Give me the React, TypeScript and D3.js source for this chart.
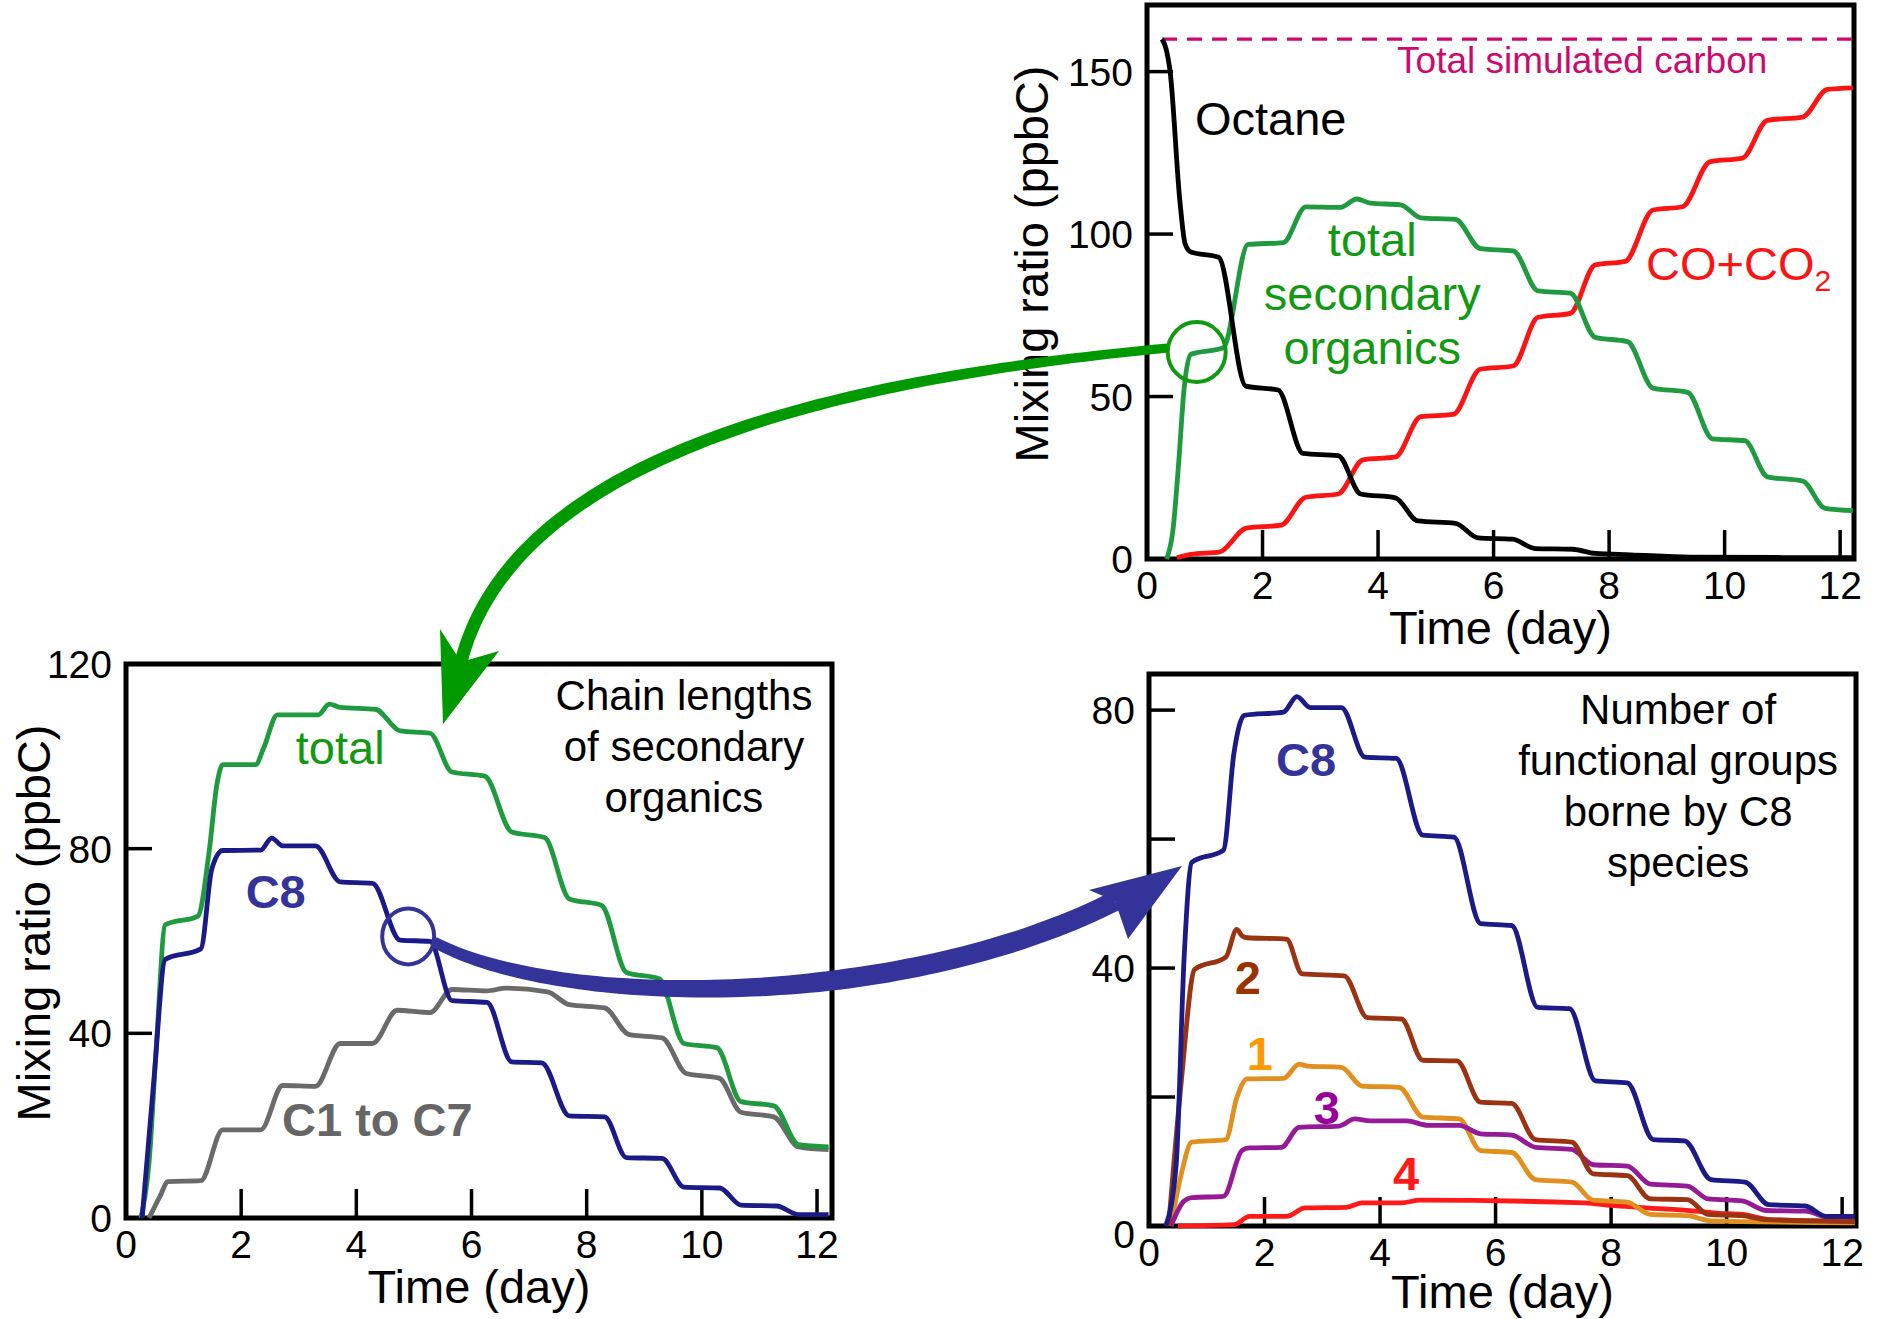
import * as d3 from "d3";

const W = 1881;
const H = 1319;
const FONT = "'Liberation Sans', Arial, Helvetica, sans-serif";

type Pt = [number, number];

// ---- top right: carbon budget (ppbC vs day)
const octane: Pt[] = [[0.26, 160], [0.33, 157], [0.4, 150], [0.57, 110], [0.66, 97], [0.76, 94.5], [1.24, 92.9], [1.71, 53.2], [2.27, 52], [2.7, 32.5], [3.31, 31.8], [3.7, 20], [4.3, 18.8], [4.69, 11.7], [5.34, 11], [5.73, 6.5], [6.33, 6.1], [6.72, 3.2], [7.37, 3], [7.76, 1.7], [8.37, 1.3], [9.4, 0.6], [12.22, 0.4]];
const totalSecondary: Pt[] = [[0.34, 0], [0.45, 9], [0.55, 30], [0.64, 52], [0.76, 63], [1.32, 65], [1.75, 96.8], [2.36, 97.4], [2.75, 108.4], [3.35, 108.2], [3.63, 110.8], [3.87, 109.5], [4.39, 109], [4.74, 105], [5.34, 104.5], [5.77, 95.5], [6.34, 94.8], [6.77, 82.5], [7.33, 81.8], [7.76, 68.2], [8.32, 66.9], [8.76, 52.6], [9.36, 51.3], [9.79, 37], [10.35, 36.4], [10.74, 25.3], [11.35, 24], [11.74, 15.6], [12.22, 14.9]];
const coCo2: Pt[] = [[0.52, 0.4], [0.76, 1.4], [1.26, 2.2], [1.72, 9.5], [2.32, 10.4], [2.75, 19], [3.31, 20], [3.74, 30.5], [4.3, 31.4], [4.74, 43.8], [5.3, 44.5], [5.77, 58.4], [6.34, 59.4], [6.77, 74.4], [7.33, 75.6], [7.76, 90.5], [8.28, 91.6], [8.76, 107.4], [9.27, 108.4], [9.75, 122.3], [10.31, 123.4], [10.74, 135], [11.35, 136], [11.78, 144.5], [12.22, 145]];
const totalCarbon: Pt[] = [[0.26, 160], [12.24, 160]];

// ---- bottom left: chain lengths
const totalBL: Pt[] = [[0.26, 0], [0.4, 12], [0.54, 40], [0.68, 63.5], [1.25, 65.4], [1.44, 79], [1.58, 94], [1.68, 98.2], [2.25, 98.2], [2.39, 101.8], [2.63, 109], [3.34, 109], [3.53, 111.3], [3.72, 110.6], [4.33, 110.2], [4.76, 105.5], [5.28, 105], [5.66, 96.6], [6.23, 95.7], [6.7, 83.6], [7.27, 82.4], [7.7, 69.1], [8.26, 67.7], [8.69, 53.2], [9.26, 51.8], [9.69, 37.8], [10.26, 36.9], [10.68, 25.2], [11.25, 24.3], [11.68, 15.9], [12.2, 15.4]];
const c8BL: Pt[] = [[0.28, 0], [0.49, 30.8], [0.68, 56], [1.3, 58.3], [1.49, 75.6], [1.68, 79.6], [2.34, 79.7], [2.53, 82.3], [2.72, 80.6], [3.29, 80.6], [3.72, 72.8], [4.28, 72.5], [4.76, 60.2], [5.28, 59.9], [5.66, 47.1], [6.27, 46.7], [6.7, 33.8], [7.22, 33.6], [7.7, 22.1], [8.31, 21.9], [8.69, 13.1], [9.31, 12.9], [9.69, 6.7], [10.31, 6.5], [10.68, 2.8], [11.3, 2.6], [11.68, 0.75], [12.2, 0.75]];
const c1c7: Pt[] = [[0.4, 0], [0.59, 4.7], [0.73, 7.9], [1.3, 8.1], [1.68, 19.1], [2.34, 19.1], [2.72, 28.7], [3.29, 28.5], [3.72, 37.8], [4.28, 37.8], [4.71, 45], [5.28, 44.5], [5.66, 49.5], [6.27, 49.2], [6.6, 49.8], [7.32, 49], [7.7, 46.2], [8.31, 45.5], [8.74, 39.7], [9.31, 39], [9.73, 31.3], [10.3, 30.3], [10.68, 22.9], [11.25, 21.9], [11.68, 15.4], [12.2, 14.8]];

// ---- bottom right: functional groups borne by C8
const c8BR: Pt[] = [[0.29, 0], [0.47, 9.5], [0.61, 42], [0.74, 56.4], [1.29, 58.3], [1.47, 73.3], [1.65, 79.2], [2.33, 79.7], [2.56, 82.1], [2.79, 80.4], [3.33, 80.4], [3.74, 72.7], [4.28, 72.5], [4.74, 60.6], [5.28, 60.3], [5.74, 46.9], [6.28, 46.6], [6.73, 33.9], [7.28, 33.7], [7.73, 22.5], [8.28, 22.2], [8.73, 13.4], [9.27, 13.2], [9.73, 7.2], [10.32, 6.8], [10.73, 3.3], [11.36, 3.1], [11.72, 1.5], [12.22, 1.5]];
const fg2: Pt[] = [[0.34, 0], [0.56, 22.5], [0.79, 39.8], [1.33, 41.7], [1.52, 46], [1.61, 45], [1.7, 44.7], [2.38, 44.5], [2.65, 39.1], [3.38, 38.8], [3.78, 32.3], [4.37, 32.1], [4.74, 25.7], [5.33, 25.6], [5.74, 19.2], [6.28, 19], [6.69, 13.4], [7.32, 13], [7.69, 8.1], [8.28, 7.8], [8.68, 4.2], [9.32, 4.1], [9.68, 1.8], [10.27, 1.6], [10.68, 1], [12.22, 0.7]];
const fg1: Pt[] = [[0.38, 0], [0.56, 8.1], [0.74, 13], [1.33, 13.4], [1.52, 19.9], [1.7, 22.8], [2.33, 22.9], [2.6, 25.1], [2.74, 24.8], [3.33, 24.6], [3.69, 21.7], [4.33, 21.5], [4.74, 16.9], [5.37, 16.6], [5.74, 11.7], [6.28, 11.4], [6.69, 7.2], [7.32, 6.8], [7.69, 4], [8.28, 3.7], [8.68, 1.8], [9.32, 1.6], [9.73, 0.8], [12.22, 0.5]];
const fg3: Pt[] = [[0.38, 0], [0.61, 3.9], [0.74, 4.4], [1.29, 4.6], [1.61, 11.7], [1.74, 12.1], [2.29, 12.2], [2.6, 15.3], [3.29, 15.5], [3.56, 16.6], [3.83, 16.3], [4.46, 16.3], [4.83, 15.6], [5.37, 15.6], [5.74, 14.3], [6.28, 14.1], [6.69, 12.2], [7.32, 11.9], [7.69, 9.5], [8.28, 9.3], [8.68, 6.5], [9.32, 6.2], [9.68, 4.2], [10.27, 3.9], [10.68, 2.4], [11.36, 2.3], [11.77, 1.3], [12.22, 1.1]];
const fg4: Pt[] = [[0.5, 0], [1.47, 0.2], [1.74, 1.5], [2.38, 1.5], [2.7, 2.8], [3.42, 2.9], [3.69, 3.6], [4.37, 3.6], [4.69, 4], [7.55, 3.6], [8, 3.2], [8.46, 2.9], [9.36, 2.4], [9.82, 2], [10.27, 1.8], [10.73, 1], [12.22, 0.7]];

const xTickVals = [2, 4, 6, 8, 10, 12];
const xLabelVals = [0, 2, 4, 6, 8, 10, 12];

type Series = { data: Pt[]; color: string; width?: number; dash?: string };
type Label = { lines: string[]; t: number; v: number; color: string; size: number; bold?: boolean; anchor?: string; gap?: number; sub?: string };
type Box = { left: number; right: number; top: number; bottom: number };

function Panel(props: {
  box: Box; xMax: number; yMax: number; yTicks: number[]; yLabels: number[];
  series: Series[]; labels: Label[]; yTitleX?: number; zeroDy?: number; titleDy?: number;
  circle?: { t: number; v: number; rx: number; ry: number; color: string };
}) {
  const { box, xMax, yMax } = props;
  const x = d3.scaleLinear().domain([0, xMax]).range([box.left, box.right]);
  const y = d3.scaleLinear().domain([0, yMax]).range([box.bottom, box.top]);
  const line = d3.line<Pt>().x(d => x(d[0])).y(d => y(d[1])).curve(d3.curveMonotoneX);
  const cx = (box.left + box.right) / 2;
  const cy = (box.top + box.bottom) / 2;
  return (
    <g fontFamily={FONT}>
      <rect x={box.left} y={box.top} width={box.right - box.left} height={box.bottom - box.top}
        fill="none" stroke="#000" strokeWidth={5} />
      {xTickVals.map(t => (
        <line key={"xt" + t} x1={x(t)} x2={x(t)} y1={box.bottom} y2={box.bottom - 29} stroke="#000" strokeWidth={3.5} />
      ))}
      {props.yTicks.map(v => (
        <line key={"yt" + v} x1={box.left} x2={box.left + 26} y1={y(v)} y2={y(v)} stroke="#000" strokeWidth={3.5} />
      ))}
      {xLabelVals.map(t => (
        <text key={"xl" + t} x={x(t)} y={box.bottom + 40} fontSize={39} textAnchor="middle">{t}</text>
      ))}
      {props.yLabels.map(v => (
        <text key={"yl" + v} x={box.left - 14} y={y(v) + (v === 0 ? props.zeroDy || 0 : 0)} dy="0.36em"
          fontSize={39} textAnchor="end">{v}</text>
      ))}
      <text x={cx} y={box.bottom + (props.titleDy || 85)} fontSize={47} textAnchor="middle">Time (day)</text>
      {props.yTitleX !== undefined && (
        <text transform={`translate(${props.yTitleX},${cy - 18}) rotate(-90)`} fontSize={47} textAnchor="middle">
          Mixing ratio (ppbC)
        </text>
      )}
      {props.series.map((s, i) => (
        <path key={"s" + i} d={line(s.data) || ""} fill="none" stroke={s.color}
          strokeWidth={s.width || 4.8} strokeDasharray={s.dash} strokeLinejoin="round" />
      ))}
      {props.labels.map((l, i) => (
        <text key={"l" + i} x={x(l.t)} y={y(l.v)} fill={l.color} fontSize={l.size}
          fontWeight={l.bold ? "bold" : "normal"} textAnchor={l.anchor || "middle"}>
          {l.lines.map((s, j) => (
            <tspan key={j} x={x(l.t)} dy={j === 0 ? 0 : l.gap || 52}>{s}</tspan>
          ))}
          {l.sub && <tspan fontSize={l.size * 0.64} dy={11}>{l.sub}</tspan>}
        </text>
      ))}
      {props.circle && (
        <ellipse cx={x(props.circle.t)} cy={y(props.circle.v)} rx={props.circle.rx} ry={props.circle.ry}
          fill="none" stroke={props.circle.color} strokeWidth={4} />
      )}
    </g>
  );
}

// a cubic arrow shaft whose width grows from w0 to w1
function taper(p: Pt[], w0: number, w1: number) {
  const n = 80;
  const left: Pt[] = [];
  const right: Pt[] = [];
  for (let i = 0; i <= n; i++) {
    const t = i / n, u = 1 - t;
    const bx = u * u * u * p[0][0] + 3 * u * u * t * p[1][0] + 3 * u * t * t * p[2][0] + t * t * t * p[3][0];
    const by = u * u * u * p[0][1] + 3 * u * u * t * p[1][1] + 3 * u * t * t * p[2][1] + t * t * t * p[3][1];
    const dx = 3 * u * u * (p[1][0] - p[0][0]) + 6 * u * t * (p[2][0] - p[1][0]) + 3 * t * t * (p[3][0] - p[2][0]);
    const dy = 3 * u * u * (p[1][1] - p[0][1]) + 6 * u * t * (p[2][1] - p[1][1]) + 3 * t * t * (p[3][1] - p[2][1]);
    const len = Math.hypot(dx, dy) || 1;
    const hw = (w0 + (w1 - w0) * Math.min(1, t * 1.6)) / 2;
    left.push([bx - (dy / len) * hw, by + (dx / len) * hw]);
    right.push([bx + (dy / len) * hw, by - (dx / len) * hw]);
  }
  const pts = left.concat(right.reverse());
  return "M" + pts.map(q => q[0].toFixed(1) + "," + q[1].toFixed(1)).join("L") + "Z";
}

const greenShaft: Pt[] = [[1168, 348], [850, 378], [515, 450], [461, 662]];
const blueShaft: Pt[] = [[434, 942], [560, 1010], [900, 1010], [1115, 901]];

export default function App() {
  return (
    <svg width={W} height={H} style={{ position: "absolute", left: 0, top: 0, background: "#fff" }}>
      <rect width={W} height={H} fill="#fff" />
      <Panel
        box={{ left: 1147, right: 1854, top: 5, bottom: 559 }} xMax={12.24} yMax={170.5}
        yTicks={[50, 100, 150]} yLabels={[0, 50, 100, 150]} yTitleX={1048}
        series={[
          { data: totalCarbon, color: "#cc0a6e", width: 3.2, dash: "15 10" },
          { data: coCo2, color: "#fa1414" },
          { data: totalSecondary, color: "#1f9a3f" },
          { data: octane, color: "#000" },
        ]}
        labels={[
          { lines: ["Total simulated carbon"], t: 4.33, v: 149.5, color: "#cc0a6e", size: 37, anchor: "start" },
          { lines: ["Octane"], t: 0.83, v: 130.5, color: "#000", size: 47, anchor: "start" },
          { lines: ["total", "secondary", "organics"], t: 3.9, v: 93.3, color: "#129912", size: 47, gap: 54 },
          { lines: ["CO+CO"], sub: "2", t: 8.64, v: 85.9, color: "#fa1414", size: 47, anchor: "start" },
        ]}
        circle={{ t: 0.86, v: 63.7, rx: 29, ry: 30, color: "#119911" }}
      />
      <Panel
        box={{ left: 126, right: 832, top: 664, bottom: 1218 }} xMax={12.26} yMax={120}
        yTicks={[40, 80]} yLabels={[0, 40, 80, 120]} yTitleX={50}
        series={[
          { data: c1c7, color: "#6a6a6a" },
          { data: totalBL, color: "#1f9a3f" },
          { data: c8BL, color: "#1c1a86" },
        ]}
        labels={[
          { lines: ["total"], t: 3.72, v: 98.3, color: "#129912", size: 47 },
          { lines: ["C8"], t: 2.6, v: 67.1, color: "#333399", size: 47, bold: true },
          { lines: ["C1 to C7"], t: 2.71, v: 17.7, color: "#666666", size: 47, bold: true, anchor: "start" },
          { lines: ["Chain lengths", "of secondary", "organics"], t: 9.69, v: 110, color: "#000", size: 42, gap: 51 },
        ]}
        circle={{ t: 4.9, v: 61, rx: 26, ry: 28, color: "#333399" }}
      />
      <Panel
        box={{ left: 1149, right: 1856, top: 674, bottom: 1226 }} xMax={12.24} yMax={85.6}
        yTicks={[20, 40, 60, 80]} yLabels={[0, 40, 80]} zeroDy={8} titleDy={82}
        series={[
          { data: fg4, color: "#ff1a1a" },
          { data: fg1, color: "#e0901e" },
          { data: fg3, color: "#951a95" },
          { data: fg2, color: "#993311" },
          { data: c8BR, color: "#1c1a86" },
        ]}
        labels={[
          { lines: ["C8"], t: 2.72, v: 69.8, color: "#333399", size: 47, bold: true },
          { lines: ["Number of", "functional groups", "borne by C8", "species"], t: 9.16, v: 77.8, color: "#000", size: 42, gap: 51 },
          { lines: ["2"], t: 1.71, v: 36, color: "#993300", size: 47, bold: true },
          { lines: ["1"], t: 1.92, v: 24.2, color: "#ff9900", size: 47, bold: true },
          { lines: ["3"], t: 3.08, v: 15.8, color: "#990099", size: 47, bold: true },
          { lines: ["4"], t: 4.45, v: 5.6, color: "#ff1a1a", size: 47, bold: true },
        ]}
      />
      {/* green arrow: top right circle -> bottom left panel */}
      <path d={taper(greenShaft, 9, 13)} fill="#009a00" />
      <polygon points="443,724 499,651 461,662 440,629" fill="#009a00" />
      {/* blue arrow: bottom left circle -> bottom right panel */}
      <path d={taper(blueShaft, 11, 20)} fill="#333399" />
      <polygon points="1182,866 1089,890 1115,901 1128,939" fill="#333399" />
    </svg>
  );
}
